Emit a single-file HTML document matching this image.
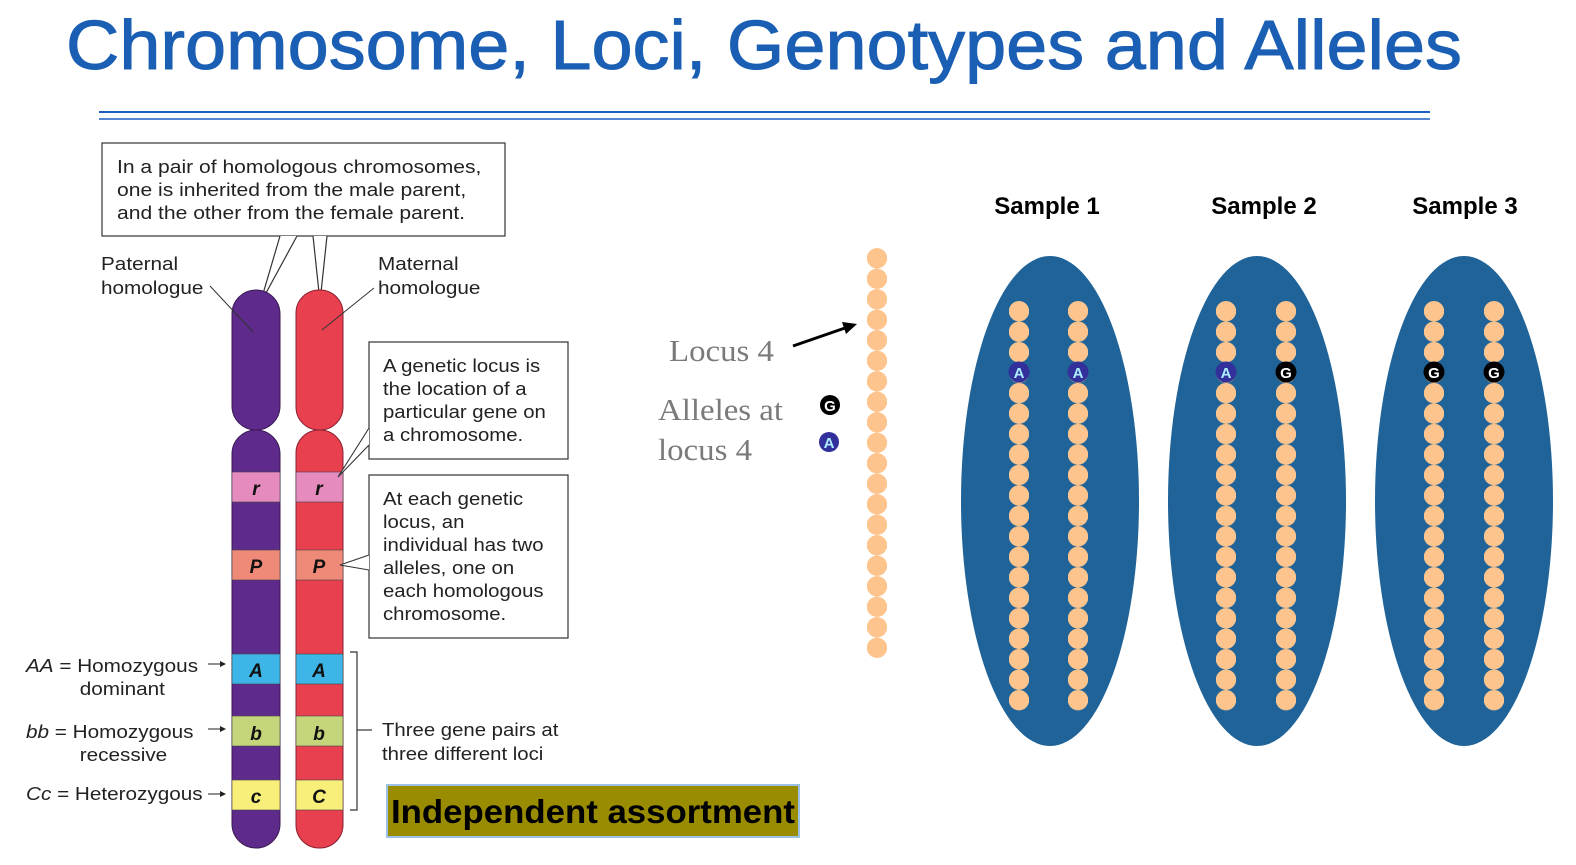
<!DOCTYPE html>
<html><head><meta charset="utf-8"><style>
html,body{margin:0;padding:0;background:#fff;}
body{width:1576px;height:865px;overflow:hidden;position:relative;font-family:"Liberation Sans",sans-serif;}
</style></head><body>
<svg width="1576" height="865" viewBox="0 0 1576 865" xmlns="http://www.w3.org/2000/svg" style="position:absolute;left:0;top:0">
<defs>
<pattern id="p1019" patternUnits="userSpaceOnUse" x="1009" y="301" width="20" height="20.47"><circle cx="10" cy="10.23" r="10.2" fill="#fdc58d"/></pattern>
<pattern id="p1078" patternUnits="userSpaceOnUse" x="1068" y="301" width="20" height="20.47"><circle cx="10" cy="10.23" r="10.2" fill="#fdc58d"/></pattern>
<pattern id="p1226" patternUnits="userSpaceOnUse" x="1216" y="301" width="20" height="20.47"><circle cx="10" cy="10.23" r="10.2" fill="#fdc58d"/></pattern>
<pattern id="p1286" patternUnits="userSpaceOnUse" x="1276" y="301" width="20" height="20.47"><circle cx="10" cy="10.23" r="10.2" fill="#fdc58d"/></pattern>
<pattern id="p1434" patternUnits="userSpaceOnUse" x="1424" y="301" width="20" height="20.47"><circle cx="10" cy="10.23" r="10.2" fill="#fdc58d"/></pattern>
<pattern id="p1494" patternUnits="userSpaceOnUse" x="1484" y="301" width="20" height="20.47"><circle cx="10" cy="10.23" r="10.2" fill="#fdc58d"/></pattern>
<pattern id="p877" patternUnits="userSpaceOnUse" x="867" y="248" width="20" height="20.5"><circle cx="10" cy="10.25" r="10.2" fill="#fdc58d"/></pattern>
</defs>
<text x="66" y="69" font-size="70" fill="#1a5fb4" stroke="#1a5fb4" stroke-width="1" textLength="1396" lengthAdjust="spacingAndGlyphs">Chromosome, Loci, Genotypes and Alleles</text>
<line x1="99" y1="112" x2="1430" y2="112" stroke="#1f5fbf" stroke-width="2"/>
<line x1="99" y1="119" x2="1430" y2="119" stroke="#1f5fbf" stroke-width="1.5"/>

<!-- top callout -->
<rect x="102" y="143" width="403" height="93" fill="#fff" stroke="#333" stroke-width="1.2"/>
<g font-size="18.5" fill="#222" transform="translate(117,0) scale(1.14,1)"><text x="0" y="173">In a pair of homologous chromosomes,</text><text x="0" y="196">one is inherited from the male parent,</text><text x="0" y="219">and the other from the female parent.</text></g>
<polyline points="280,236 260,304 297,236" fill="#fff" stroke="#333" stroke-width="1.2"/>
<polyline points="313,236 320,302 327,236" fill="#fff" stroke="#333" stroke-width="1.2"/>
<g font-size="18.5" fill="#222" transform="translate(101,0) scale(1.12,1)"><text x="0" y="270">Paternal</text><text x="0" y="294">homologue</text></g>
<g font-size="18.5" fill="#222" transform="translate(378,0) scale(1.12,1)"><text x="0" y="270">Maternal</text><text x="0" y="294">homologue</text></g>

<!-- chromosomes -->
<rect x="232" y="290" width="48" height="140" rx="24" fill="#5e2a8c" stroke="#3a1a55"/>
<rect x="232" y="430" width="48" height="418" rx="24" fill="#5e2a8c" stroke="#3a1a55"/>
<rect x="296" y="290" width="47" height="140" rx="23" fill="#e8404f" stroke="#8a2030"/>
<rect x="296" y="430" width="47" height="418" rx="23" fill="#e8404f" stroke="#8a2030"/>
<g stroke="#444" stroke-width="0.6">
<rect x="232" y="472" width="48" height="30" fill="#e58bbd"/><rect x="296" y="472" width="47" height="30" fill="#e58bbd"/>
<rect x="232" y="550" width="48" height="30" fill="#f08a78"/><rect x="296" y="550" width="47" height="30" fill="#f08a78"/>
<rect x="232" y="654" width="48" height="30" fill="#3db5e6"/><rect x="296" y="654" width="47" height="30" fill="#3db5e6"/>
<rect x="232" y="716" width="48" height="30" fill="#c5d57c"/><rect x="296" y="716" width="47" height="30" fill="#c5d57c"/>
<rect x="232" y="780" width="48" height="30" fill="#f8ee7a"/><rect x="296" y="780" width="47" height="30" fill="#f8ee7a"/>
</g>
<g font-size="19" font-weight="bold" font-style="italic" fill="#111" text-anchor="middle">
<text x="256" y="495">r</text><text x="319" y="495">r</text>
<text x="256" y="573">P</text><text x="319" y="573">P</text>
<text x="256" y="677">A</text><text x="319" y="677">A</text>
<text x="256" y="740">b</text><text x="319" y="740">b</text>
<text x="256" y="803">c</text><text x="319" y="803">C</text>
</g>
<line x1="210" y1="286" x2="253" y2="332" stroke="#333" stroke-width="1"/>
<line x1="374" y1="288" x2="322" y2="330" stroke="#333" stroke-width="1"/>

<!-- locus callouts -->
<rect x="369" y="342" width="199" height="117" fill="#fff" stroke="#333" stroke-width="1.2"/>
<g font-size="18.5" fill="#222" transform="translate(383,0) scale(1.1,1)"><text x="0" y="372">A genetic locus is</text><text x="0" y="395">the location of a</text><text x="0" y="418">particular gene on</text><text x="0" y="441">a chromosome.</text></g>
<polyline points="369,428 338,477 369,445" fill="#fff" stroke="#333" stroke-width="1.1"/>
<rect x="369" y="475" width="199" height="163" fill="#fff" stroke="#333" stroke-width="1.2"/>
<g font-size="18.5" fill="#222" transform="translate(383,0) scale(1.1,1)"><text x="0" y="505">At each genetic</text><text x="0" y="528">locus, an</text><text x="0" y="551">individual has two</text><text x="0" y="574">alleles, one on</text><text x="0" y="597">each homologous</text><text x="0" y="620">chromosome.</text></g>
<polyline points="369,555 340,565 369,570" fill="#fff" stroke="#333" stroke-width="1.1"/>

<!-- bracket -->
<polyline points="350,652 357,652 357,810 350,810" fill="none" stroke="#333" stroke-width="1.2"/>
<line x1="357" y1="730" x2="372" y2="730" stroke="#333" stroke-width="1.2"/>
<g font-size="18.5" fill="#222" transform="translate(382,0) scale(1.1,1)"><text x="0" y="736">Three gene pairs at</text><text x="0" y="760">three different loci</text></g>

<g font-size="18.5" fill="#222" transform="translate(26,0) scale(1.12,1)">
<text x="0" y="672"><tspan font-style="italic">AA</tspan> = Homozygous</text><text x="48" y="695">dominant</text>
<text x="0" y="738"><tspan font-style="italic">bb</tspan> = Homozygous</text><text x="48" y="761">recessive</text>
<text x="0" y="800"><tspan font-style="italic">Cc</tspan> = Heterozygous</text>
</g>
<g stroke="#222" stroke-width="1"><line x1="208" y1="664" x2="224" y2="664"/><line x1="208" y1="729" x2="224" y2="729"/><line x1="208" y1="794" x2="224" y2="794"/></g>
<g fill="#222"><polygon points="226,664 220,661 220,667"/><polygon points="226,729 220,726 220,732"/><polygon points="226,794 220,791 220,797"/></g>

<!-- independent assortment -->
<rect x="386" y="784" width="414" height="54" fill="#9bc2e6"/>
<rect x="388" y="786" width="410" height="50" fill="#9a8c00"/>
<text x="391" y="823" font-size="33" font-weight="bold" fill="#000" textLength="404" lengthAdjust="spacingAndGlyphs">Independent assortment</text>

<!-- locus 4 -->
<g font-family="Liberation Serif, serif" font-size="31" fill="#7a7a7a">
<text x="669" y="361" textLength="105" lengthAdjust="spacingAndGlyphs">Locus 4</text><text x="658" y="420" textLength="125" lengthAdjust="spacingAndGlyphs">Alleles at</text><text x="658" y="460" textLength="94" lengthAdjust="spacingAndGlyphs">locus 4</text>
</g>
<line x1="793" y1="346" x2="845" y2="328" stroke="#000" stroke-width="3"/>
<polygon points="857,324 842,322 846,334" fill="#000"/>
<circle cx="830" cy="405" r="10" fill="#000"/><text x="830" y="411" font-size="15" font-weight="bold" fill="#fff" text-anchor="middle">G</text>
<circle cx="829" cy="442" r="10" fill="#32309a"/><text x="829" y="448" font-size="15" font-weight="bold" fill="#aeeeff" text-anchor="middle">A</text>
<rect x="867" y="248" width="20" height="410" fill="url(#p877)"/>

<!-- samples -->
<g font-size="24" font-weight="bold" fill="#000" text-anchor="middle">
<text x="1047" y="214">Sample 1</text><text x="1264" y="214">Sample 2</text><text x="1465" y="214">Sample 3</text>
</g>
<ellipse cx="1050" cy="501" rx="89" ry="245" fill="#1f6399"/>
<ellipse cx="1257" cy="501" rx="89" ry="245" fill="#1f6399"/>
<ellipse cx="1464" cy="501" rx="89" ry="245" fill="#1f6399"/>
<rect x="1009" y="301" width="20" height="409.4" fill="url(#p1019)"/>
<rect x="1068" y="301" width="20" height="409.4" fill="url(#p1078)"/>
<rect x="1216" y="301" width="20" height="409.4" fill="url(#p1226)"/>
<rect x="1276" y="301" width="20" height="409.4" fill="url(#p1286)"/>
<rect x="1424" y="301" width="20" height="409.4" fill="url(#p1434)"/>
<rect x="1484" y="301" width="20" height="409.4" fill="url(#p1494)"/>
<g font-size="15" font-weight="bold" text-anchor="middle">
<circle cx="1019" cy="372" r="10.5" fill="#32309a"/><text x="1019" y="378" fill="#aeeeff">A</text>
<circle cx="1078" cy="372" r="10.5" fill="#32309a"/><text x="1078" y="378" fill="#aeeeff">A</text>
<circle cx="1226" cy="372" r="10.5" fill="#32309a"/><text x="1226" y="378" fill="#aeeeff">A</text>
<circle cx="1286" cy="372" r="10.5" fill="#000"/><text x="1286" y="378" fill="#fff">G</text>
<circle cx="1434" cy="372" r="10.5" fill="#000"/><text x="1434" y="378" fill="#fff">G</text>
<circle cx="1494" cy="372" r="10.5" fill="#000"/><text x="1494" y="378" fill="#fff">G</text>
</g>
</svg>
</body></html>
